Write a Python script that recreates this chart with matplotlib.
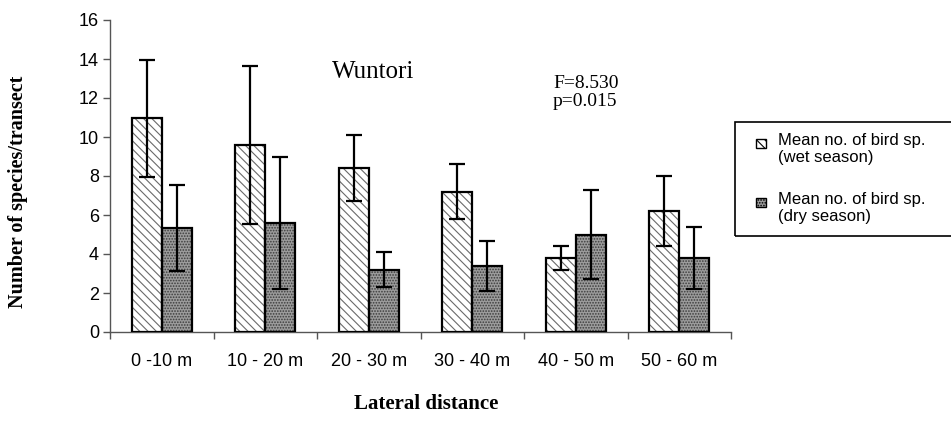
import numpy as np
import matplotlib.pyplot as plt
from matplotlib.patches import Rectangle

# data
categories = ['0 -10 m', '10 - 20 m', '20 - 30 m', '30 - 40 m', '40 - 50 m', '50 - 60 m']
wet_mean = [10.95, 9.6, 8.4, 7.2, 3.8, 6.2]
wet_err = [3.0, 4.05, 1.7, 1.4, 0.6, 1.8]
dry_mean = [5.35, 5.6, 3.2, 3.4, 5.0, 3.8]
dry_err = [2.2, 3.4, 0.88, 1.28, 2.28, 1.57]
yticks = [0, 2, 4, 6, 8, 10, 12, 14, 16]

W, H = 951, 426
sans = 'Liberation Sans'
serif = 'Liberation Serif'

plt.rcParams['hatch.linewidth'] = 0.8

fig = plt.figure(figsize=(W / 100, H / 100), dpi=100)
ax = fig.add_axes([110 / W, 1 - 332 / H, 621 / W, 312 / H])

x = np.arange(len(categories))
bw = 0.29
wet_face, wet_hatch = 'white', '\\\\\\\\'
dry_face, dry_hatch = '#9c9c9c', '......'

def draw_bars(xpos, vals, face, hatch, hcolor):
    # hatch layer first, black outline on top
    ax.bar(xpos, vals, bw, color=face, hatch=hatch, edgecolor=hcolor, linewidth=0, zorder=2)
    ax.bar(xpos, vals, bw, fill=False, edgecolor='black', linewidth=1.6, zorder=3)

draw_bars(x - bw / 2, wet_mean, wet_face, wet_hatch, '#6a6a6a')
draw_bars(x + bw / 2, dry_mean, dry_face, dry_hatch, '#3c3c3c')

ax.errorbar(x - bw / 2, wet_mean, yerr=wet_err, fmt='none', ecolor='black',
            elinewidth=1.6, capsize=6, capthick=1.6, zorder=4)
ax.errorbar(x + bw / 2, dry_mean, yerr=dry_err, fmt='none', ecolor='black',
            elinewidth=1.6, capsize=6, capthick=1.6, zorder=4)

ax.set_xlim(-0.5, len(categories) - 0.5)
ax.set_ylim(0, 16)
ax.set_yticks(yticks)
ax.set_yticklabels([str(v) for v in yticks], fontfamily=sans, fontsize=13)
ax.set_xticks(x)
ax.set_xticklabels(categories, fontfamily=sans, fontsize=13)
ax.set_xticks(np.arange(len(categories) + 1) - 0.5, minor=True)
ax.tick_params(axis='x', which='major', length=0, pad=15)
ax.tick_params(axis='x', which='minor', length=5, color='#555555', width=1)
ax.tick_params(axis='y', length=5, color='#555555', width=1, pad=3)

for s in ['top', 'right']:
    ax.spines[s].set_visible(False)
for s in ['left', 'bottom']:
    ax.spines[s].set_color('#555555')
    ax.spines[s].set_linewidth(1)

# titles and annotations
fig.text(373 / W, 1 - 72 / H, 'Wuntori', fontfamily=serif, fontsize=18, ha='center', va='center')
fig.text(553 / W, 1 - 83 / H, 'F=8.530', fontfamily=serif, fontsize=14, ha='left', va='center')
fig.text(553 / W, 1 - 102 / H, 'p=0.015', fontfamily=serif, fontsize=14, ha='left', va='center')
fig.text(18 / W, 1 - 192 / H, 'Number of species/transect', fontfamily=serif, fontsize=14.5,
         fontweight='bold', rotation=90, ha='center', va='center')
fig.text(426 / W, 1 - 404 / H, 'Lateral distance', fontfamily=serif, fontsize=15,
         fontweight='bold', ha='center', va='center')

# legend box, running off the right edge like the original
fig.patches.append(Rectangle((735 / W, 1 - 236 / H), 230 / W, 114 / H, transform=fig.transFigure,
                             fill=False, edgecolor='black', linewidth=1.2))
legend_items = [(wet_face, wet_hatch, 143, 'Mean no. of bird sp.\n(wet season)'),
                (dry_face, dry_hatch, 202, 'Mean no. of bird sp.\n(dry season)')]
for face, hatch, yc, label in legend_items:
    fig.patches.append(Rectangle((756 / W, 1 - (yc + 4.5) / H), 10 / W, 9 / H, transform=fig.transFigure,
                                 facecolor=face, hatch=hatch, edgecolor='black', linewidth=1))
    fig.text(778 / W, 1 - (yc - 10) / H, label, fontfamily=sans, fontsize=12, ha='left', va='top',
             linespacing=1.2)

fig.savefig('out.png', dpi=100)
